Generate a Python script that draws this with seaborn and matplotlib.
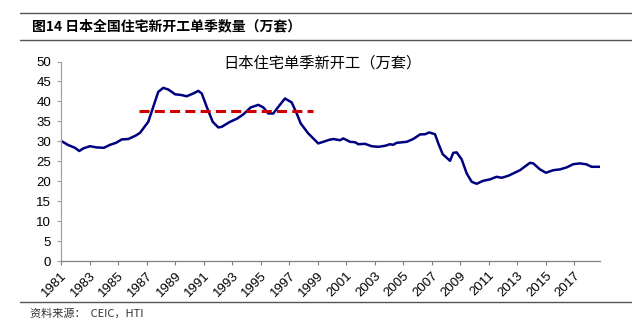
import matplotlib
matplotlib.use("Agg")
import matplotlib.pyplot as plt
import seaborn as sns
import pandas as pd
from matplotlib.lines import Line2D

# ---- data ----
years = [
    1981.0, 1981.5, 1981.98, 1982.28, 1982.56, 1983.03, 1983.5, 1984.01, 1984.44, 1984.86,
    1985.26, 1985.72, 1986.26, 1986.54, 1987.12, 1987.47, 1987.82, 1988.17, 1988.52, 1989.0,
    1989.46, 1989.81, 1990.28, 1990.63, 1990.87, 1991.22, 1991.64, 1992.03, 1992.27, 1992.85,
    1993.32, 1993.78, 1994.3, 1994.84, 1995.19, 1995.54, 1995.89, 1996.24, 1996.71, 1997.18,
    1997.53, 1997.81, 1998.34, 1999.04, 1999.39, 1999.81, 2000.1, 2000.57, 2000.8, 2001.27,
    2001.62, 2001.85, 2002.32, 2002.79, 2003.25, 2003.72, 2004.07, 2004.3, 2004.54, 2005.24,
    2005.7, 2006.18, 2006.53, 2006.83, 2007.23, 2007.46, 2007.77, 2008.28, 2008.51, 2008.75,
    2009.1, 2009.45, 2009.8, 2010.15, 2010.61, 2011.08, 2011.55, 2011.9, 2012.37, 2012.72,
    2013.19, 2013.89, 2014.12, 2014.59, 2015.01, 2015.52, 2015.99, 2016.46, 2016.92, 2017.39,
    2017.86, 2018.21, 2018.8,
]
starts = [
    30.15, 29.1, 28.4, 27.6, 28.25, 28.8, 28.5, 28.4, 29.15, 29.65,
    30.5, 30.6, 31.5, 32.15, 34.9, 38.65, 42.4, 43.4, 43.0, 41.8,
    41.6, 41.3, 42.0, 42.65, 42.0, 38.65, 34.9, 33.5, 33.65, 34.9,
    35.65, 36.75, 38.5, 39.15, 38.5, 37.0, 37.0, 38.65, 40.75, 39.75,
    37.0, 34.5, 32.0, 29.5, 29.9, 30.4, 30.6, 30.3, 30.75, 29.9,
    29.8, 29.3, 29.4, 28.8, 28.65, 28.9, 29.3, 29.15, 29.65, 29.9,
    30.6, 31.75, 31.8, 32.25, 31.8, 29.5, 26.8, 25.15, 27.15, 27.25,
    25.5, 22.0, 19.9, 19.4, 20.15, 20.5, 21.15, 20.9, 21.4, 22.0,
    22.8, 24.65, 24.5, 23.0, 22.15, 22.8, 23.0, 23.5, 24.3, 24.5,
    24.25, 23.65, 23.65,
]
avg_years = [1986.5, 1998.7]
avg_values = [37.65, 37.65]

tick_years = list(range(1981, 2018, 2))
tick_labels = [str(y) for y in tick_years]
y_ticks = list(range(0, 51, 5))

main_title = "图14 日本全国住宅新开工单季数量（万套）"
chart_title = "日本住宅单季新开工（万套）"
source_text = "资料来源：  CEIC，HTI"

# ---- figure ----
sns.set_theme(style="white")
plt.rcParams["font.family"] = ["Liberation Sans", "Noto Sans CJK SC", "DejaVu Sans"]

W, H = 632, 325
fig = plt.figure(figsize=(W / 100, H / 100), dpi=100)
ax = fig.add_axes([61 / W, 1 - 261.3 / H, (600 - 61) / W, (261.3 - 61.5) / H])

df = pd.DataFrame({"year": years, "starts": starts})
sns.lineplot(data=df, x="year", y="starts", ax=ax, color="#000080", linewidth=1.8)
dfa = pd.DataFrame({"year": avg_years, "avg": avg_values})
sns.lineplot(data=dfa, x="year", y="avg", ax=ax, color="#D00000", linewidth=2.2,
             linestyle=(0, (3.3, 1.7)))

ax.set_xlim(1981, 2018.8)
ax.set_ylim(0, 50)
ax.set_xticks(tick_years)
ax.set_xticklabels(tick_labels, rotation=45, ha="right", va="top",
                   rotation_mode="anchor", fontsize=9.5, color="#000000")
ax.set_yticks(y_ticks)
ax.set_yticklabels([str(v) for v in y_ticks], fontsize=9.5, color="#000000")
ax.set_xlabel("")
ax.set_ylabel("")
ax.grid(False)

for s in ["top", "right"]:
    ax.spines[s].set_visible(False)
ax.spines["left"].set_color("#a0a0a0")
ax.spines["bottom"].set_color("#808080")
ax.spines["left"].set_linewidth(0.9)
ax.spines["bottom"].set_linewidth(0.9)
ax.tick_params(axis="y", which="major", direction="out", length=3, width=0.8,
               color="#a0a0a0", pad=4, left=True)
ax.tick_params(axis="x", which="major", direction="out", length=3, width=0.8,
               color="#808080", pad=3, bottom=True)

ax.text(0.51, 1 - 63.3 / H, chart_title, transform=fig.transFigure,
        ha="center", va="center", fontsize=11, family=["Noto Sans CJK SC"],
        color="#000000")

# header / footer rules and texts
for yy in [12.7, 40.0, 301.7]:
    fig.add_artist(Line2D([20 / W, 1.0], [1 - yy / H, 1 - yy / H],
                          transform=fig.transFigure, color="#555555", linewidth=1.0))
fig.text(31.5 / W, 1 - 26.5 / H, main_title, ha="left", va="center",
         fontsize=10, fontweight="bold", family=["Noto Sans CJK SC"], color="#000000")
fig.text(30 / W, 1 - 313.5 / H, source_text, ha="left", va="center",
         fontsize=8, family=["Noto Sans CJK SC"], color="#333333")

fig.savefig("out.png", dpi=100)
